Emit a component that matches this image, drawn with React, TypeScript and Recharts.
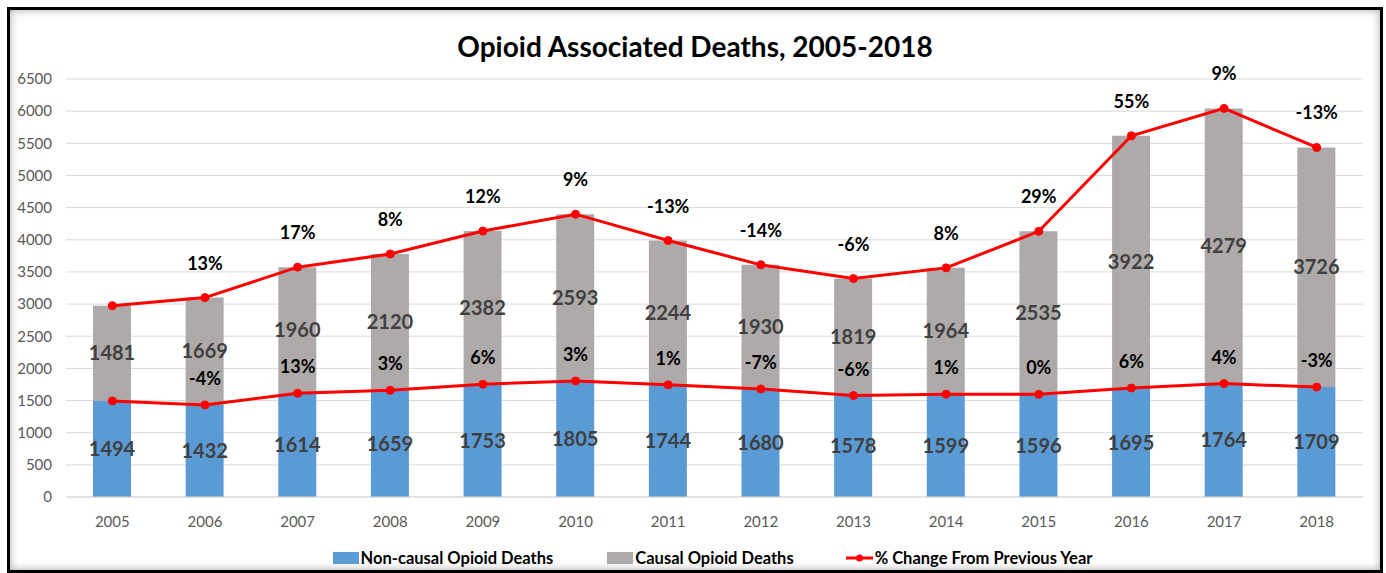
import React from 'react';
import {
  ComposedChart,
  Bar,
  Line,
  XAxis,
  YAxis,
  CartesianGrid,
  Legend,
  LabelList,
} from 'recharts';

const years = ['2005', '2006', '2007', '2008', '2009', '2010', '2011', '2012', '2013', '2014', '2015', '2016', '2017', '2018'];
const nonCausal = [1494, 1432, 1614, 1659, 1753, 1805, 1744, 1680, 1578, 1599, 1596, 1695, 1764, 1709];
const causal = [1481, 1669, 1960, 2120, 2382, 2593, 2244, 1930, 1819, 1964, 2535, 3922, 4279, 3726];
const causalChange = [null, '13%', '17%', '8%', '12%', '9%', '-13%', '-14%', '-6%', '8%', '29%', '55%', '9%', '-13%'];
const nonCausalChange = [null, '-4%', '13%', '3%', '6%', '3%', '1%', '-7%', '-6%', '1%', '0%', '6%', '4%', '-3%'];
const yTicks = [0, 500, 1000, 1500, 2000, 2500, 3000, 3500, 4000, 4500, 5000, 5500, 6000, 6500];

const data = years.map((year, i) => ({
  year,
  nonCausal: nonCausal[i],
  causal: causal[i],
  total: nonCausal[i] + causal[i],
  causalChange: causalChange[i],
  nonCausalChange: nonCausalChange[i],
}));

const FONT = 'Lato, "Open Sans", sans-serif';

const renderLegend = () => (
  <div
    style={{
      display: 'flex',
      justifyContent: 'center',
      alignItems: 'center',
      height: 26,
      paddingTop: 2,
      boxSizing: 'border-box',
      fontFamily: FONT,
      fontWeight: 700,
      fontSize: 16.5,
      color: '#000',
      paddingLeft: 52,
    }}
  >
    <div style={{ display: 'flex', alignItems: 'center', marginRight: 54 }}>
      <span style={{ width: 26, height: 12, background: '#5b9bd5', marginRight: 2 }} />
      Non-causal Opioid Deaths
    </div>
    <div style={{ display: 'flex', alignItems: 'center', marginRight: 52 }}>
      <span style={{ width: 26, height: 12, background: '#aeaaaa', marginRight: 2 }} />
      Causal Opioid Deaths
    </div>
    <div style={{ display: 'flex', alignItems: 'center' }}>
      <svg width={27} height={12} style={{ marginRight: 2 }}>
        <line x1={0} y1={6} x2={27} y2={6} stroke="#ff0000" strokeWidth={3} />
        <circle cx={13.5} cy={6} r={3.5} fill="#ff0000" />
      </svg>
      % Change From Previous Year
    </div>
  </div>
);

const App: React.FC = () => {
  return (
    <div
      style={{
        position: 'absolute',
        left: 7,
        top: 7,
        width: 1376,
        height: 566,
        boxSizing: 'border-box',
        border: '3px solid #000',
        boxShadow: 'inset 0 0 8px rgba(0,0,0,0.35)',
        background: '#fff',
      }}
    >
      <div
        style={{
          position: 'absolute',
          left: 0,
          top: 19,
          width: '100%',
          textAlign: 'center',
          fontFamily: FONT,
          fontWeight: 700,
          fontSize: 28,
          color: '#000',
          zIndex: 1,
        }}
      >
        Opioid Associated Deaths, 2005-2018
      </div>
      <div style={{ position: 'absolute', left: 0, top: 0 }}>
        <ComposedChart
          width={1370}
          height={560}
          data={data}
          margin={{ top: 69, right: 17, bottom: 0, left: 0 }}
          style={{ fontFamily: FONT }}
        >
          <CartesianGrid vertical={false} stroke="#d9d9d9" strokeWidth={1} />
          <XAxis
            dataKey="year"
            height={47}
            tickLine={false}
            axisLine={{ stroke: '#d9d9d9' }}
            tickMargin={13}
            tick={{ fill: '#595959', fontSize: 15 }}
          />
          <YAxis
            width={56}
            domain={[0, 6500]}
            ticks={yTicks}
            interval={0}
            axisLine={false}
            tickLine={false}
            tickMargin={8}
            tick={{ fill: '#595959', fontSize: 15 }}
          />
          <Legend verticalAlign="bottom" height={26} content={renderLegend} />
          <Bar dataKey="nonCausal" name="Non-causal Opioid Deaths" stackId="a" fill="#5b9bd5" barSize={38} isAnimationActive={false}>
            <LabelList dataKey="nonCausal" position="center" fill="#404040" fontSize={20} fontWeight={700} />
          </Bar>
          <Bar dataKey="causal" name="Causal Opioid Deaths" stackId="a" fill="#aeaaaa" barSize={38} isAnimationActive={false}>
            <LabelList dataKey="causal" position="center" fill="#404040" fontSize={20} fontWeight={700} />
          </Bar>
          <Line
            type="linear"
            dataKey="total"
            name="% Change From Previous Year"
            stroke="#ff0000"
            strokeWidth={3}
            dot={{ r: 4, fill: '#ff0000', stroke: '#ff0000', strokeWidth: 1 }}
            isAnimationActive={false}
          >
            <LabelList dataKey="causalChange" position="top" offset={28} fill="#000" fontSize={18} fontWeight={700} />
          </Line>
          <Line
            type="linear"
            dataKey="nonCausal"
            legendType="none"
            stroke="#ff0000"
            strokeWidth={3}
            dot={{ r: 4, fill: '#ff0000', stroke: '#ff0000', strokeWidth: 1 }}
            isAnimationActive={false}
          >
            <LabelList dataKey="nonCausalChange" position="top" offset={20} fill="#000" fontSize={18} fontWeight={700} />
          </Line>
        </ComposedChart>
      </div>
    </div>
  );
};

export default App;
